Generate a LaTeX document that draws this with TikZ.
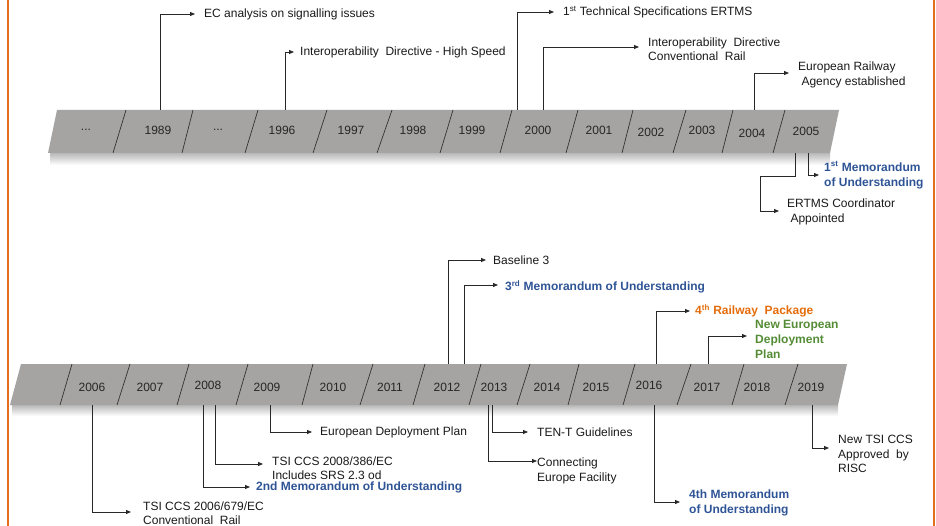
\documentclass[tikz,border=0pt]{standalone}
\usepackage{fontspec}
\setmainfont{Liberation Sans}
\usetikzlibrary{arrows.meta}
\definecolor{barfill}{RGB}{166,163,163}
\definecolor{mblue}{RGB}{47,84,150}
\definecolor{morange}{RGB}{228,108,10}
\definecolor{mgreen}{RGB}{84,140,54}
\definecolor{framecol}{RGB}{226,110,30}
\definecolor{conncol}{RGB}{40,40,40}
\begin{document}
\begin{tikzpicture}[x=1pt,y=-1pt,
  conn/.style={draw=conncol, line width=0.8pt, -{Triangle[length=5pt,width=4pt]}},
  lbl/.style={anchor=west, inner sep=0pt, align=left, font=\fontsize{12}{14.5}\selectfont, text=black!90},
  blu/.style={lbl, text=mblue, font=\fontsize{12}{15}\selectfont\bfseries},
  org/.style={lbl, text=morange, font=\fontsize{12}{15}\selectfont\bfseries},
  grn/.style={lbl, text=mgreen, font=\fontsize{12}{15}\selectfont\bfseries},
  yr/.style={inner sep=0pt, font=\fontsize{12}{14}\selectfont, text=black!85},
  divl/.style={draw=black!80, line width=0.7pt},
  barshape/.style={fill=barfill, draw=none},
  shadowbox/.style={top color=black!28, bottom color=white, draw=none}]
\useasboundingbox (0,0) rectangle (936,526);
% frame lines
\draw[framecol, line width=2pt] (8,0) -- (8,526);
\draw[framecol, line width=2pt] (934,0) -- (934,526);

% ---------- top bar ----------
\shade[shadowbox] (50,153) rectangle (830,165);
\fill[barshape] (57,110) -- (839,110) -- (830,153) -- (48,153) -- cycle;
\foreach \a/\b in {126/113,193/182,258/245,327/313,392/377,453/440,512/500,578/566,633/622,686/673,733/722,785/773}
  \draw[divl] (\a,110) -- (\b,153);
\node[yr] (y0) at (86,130) {...};
\node[yr] (y1989) at (158,130) {1989};
\node[yr] (y1) at (218,130) {...};
\node[yr] (y1996) at (282,130) {1996};
\node[yr] (y1997) at (351,130) {1997};
\node[yr] (y1998) at (413,130) {1998};
\node[yr] (y1999) at (472,130) {1999};
\node[yr] (y2000) at (538,130) {2000};
\node[yr] (y2001) at (599,130) {2001};
\node[yr] (y2002) at (651,132) {2002};
\node[yr] (y2003) at (702,130) {2003};
\node[yr] (y2004) at (752,133) {2004};
\node[yr] (y2005) at (806,131) {2005};

\coordinate (b1) at (160,110);
\coordinate (b2) at (285,110);
\coordinate (b3) at (517,110);
\coordinate (b4) at (543,110);
\coordinate (b5) at (754,110);
\coordinate (b6) at (808,153);
\coordinate (b7) at (795,153);

\node[lbl] (ec) at (204,14) {EC analysis on signalling issues};
\node[lbl] (idhs) at (300,52) {Interoperability\ \ Directive - High Speed};
\node[lbl] (tse) at (563,12) {1\textsuperscript{st} Technical Specifications ERTMS};
\node[lbl] (idcr) at (648,49) {Interoperability\ \ Directive\\Conventional\ \ Rail};
\node[lbl] (era) at (798,75) {European Railway\\\ Agency established};
\node[blu] (mou1) at (824,175) {1\textsuperscript{st} Memorandum\\of Understanding};
\node[lbl] (ertms) at (787,212) {ERTMS Coordinator\\\ Appointed};

\draw[conn] (b1) |- ([xshift=-9pt]ec.west);
\draw[conn] (b2) |- ([xshift=-6pt]idhs.west);
\draw[conn] (b3) |- ([xshift=-9pt]tse.west);
\draw[conn] (b4) |- ([xshift=-9pt,yshift=2pt]idcr.west);
\draw[conn] (b5) |- ([xshift=-9pt,yshift=2pt]era.west);
\draw[conn] (b6) |- ([xshift=-5pt]mou1.west);
\draw[conn] (b7) -- ++(0,23) -- ++(-35,0) |- ([xshift=-8pt,yshift=1pt]ertms.west);

% ---------- bottom bar ----------
\shade[shadowbox] (12,405) rectangle (838,416);
\fill[barshape] (21,364) -- (847,364) -- (838,405) -- (10,405) -- cycle;
\foreach \a/\b in {72/60,130/117,189/177,248/236,313/302,373/360,425/413,481/469,530/517,579/568,635/623,691/677,744/732,798/785}
  \draw[divl] (\a,364) -- (\b,405);
\node[yr] (y2006) at (92,387) {2006};
\node[yr] (y2007) at (150,387) {2007};
\node[yr] (y2008) at (208,385) {2008};
\node[yr] (y2009) at (267,387) {2009};
\node[yr] (y2010) at (333,387) {2010};
\node[yr] (y2011) at (390,387) {2011};
\node[yr] (y2012) at (447,387) {2012};
\node[yr] (y2013) at (494,387) {2013};
\node[yr] (y2014) at (547,387) {2014};
\node[yr] (y2015) at (596,387) {2015};
\node[yr] (y2016) at (649,385) {2016};
\node[yr] (y2017) at (707,387) {2017};
\node[yr] (y2018) at (757,387) {2018};
\node[yr] (y2019) at (811,387) {2019};

\coordinate (b8) at (448,364);
\coordinate (b9) at (464,364);
\coordinate (b10) at (656,364);
\coordinate (b11) at (708,364);
\coordinate (b12) at (270,405);
\coordinate (b13) at (215,405);
\coordinate (b14) at (203,405);
\coordinate (b15) at (92,405);
\coordinate (b16) at (492,405);
\coordinate (b17) at (488,405);
\coordinate (b18) at (654,405);
\coordinate (b19) at (812,405);

\node[lbl] (bl3) at (493,260) {Baseline 3};
\node[blu] (mou3) at (505,287) {3\textsuperscript{rd} Memorandum of Understanding};
\node[org] (rp4) at (695,311) {4\textsuperscript{th} Railway\ \ Package};
\node[grn] (nedp) at (755,339) {New European\\Deployment\\Plan};
\node[lbl] (edp) at (320,432) {European Deployment Plan};
\node[lbl] (tsi08) at (272,468) {TSI CCS 2008/386/EC\\Includes SRS 2.3 od};
\node[blu] (mou2) at (256,487) {2nd Memorandum of Understanding};
\node[lbl] (tsi06) at (143,513) {TSI CCS 2006/679/EC\\Conventional\ \ Rail};
\node[lbl] (tent) at (537,432) {TEN-T Guidelines};
\node[lbl] (cef) at (537,471) {Connecting\\Europe Facility};
\node[blu] (mou4) at (689,503) {4th Memorandum\\of Understanding};
\node[lbl] (ntsi) at (838,454) {New TSI CCS\\Approved\ \ by\\RISC};

\draw[conn] (b8) |- ([xshift=-7pt]bl3.west);
\draw[conn] (b9) |- ([xshift=-7pt,yshift=2pt]mou3.west);
\draw[conn] (b10) |- ([xshift=-5pt]rp4.west);
\draw[conn] (b11) |- ([xshift=-8pt,yshift=3pt]nedp.west);
\draw[conn] (b12) |- ([xshift=-8pt]edp.west);
\draw[conn] (b13) |- ([xshift=-9pt,yshift=4pt]tsi08.west);
\draw[conn] (b14) |- ([xshift=-6pt]mou2.west);
\draw[conn] (b15) |- ([xshift=-12pt,yshift=1pt]tsi06.west);
\draw[conn] (b16) |- ([xshift=-9pt]tent.west);
\draw[conn] (b17) |- ([yshift=10pt]cef.west);
\draw[conn] (b18) |- ([xshift=-9pt,yshift=1pt]mou4.west);
\draw[conn] (b19) |- ([xshift=-9pt,yshift=6pt]ntsi.west);
\end{tikzpicture}
\end{document}
